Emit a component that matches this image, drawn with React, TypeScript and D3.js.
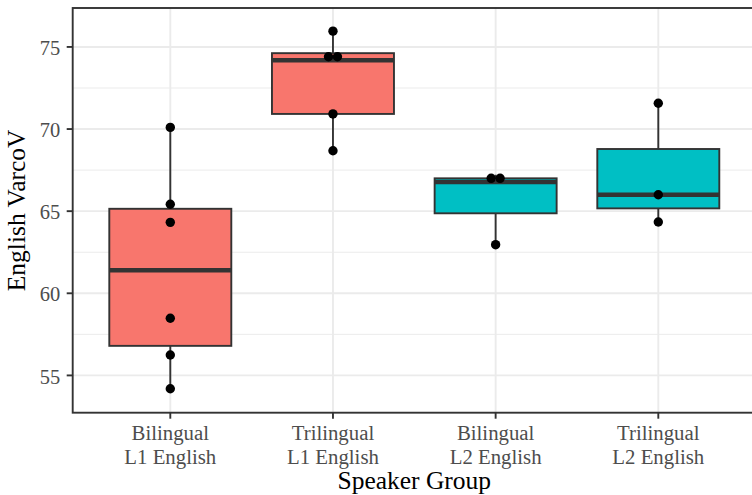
import React from "react";
import * as d3 from "d3";

// Speaker groups (two-line tick labels) and their fill colours
const groups = ["Bilingual L1", "Trilingual L1", "Bilingual L2", "Trilingual L2"];
const groupLabelLine1 = ["Bilingual", "Trilingual", "Bilingual", "Trilingual"];
const groupLabelLine2 = ["L1 English", "L1 English", "L2 English", "L2 English"];
const groupFill = ["#F8766D", "#F8766D", "#00BFC4", "#00BFC4"];

// English VarcoV per speaker, by group
const bilingualL1 = [54.19, 56.24, 58.48, 64.32, 65.42, 70.1];
const trilingualL1 = [68.68, 70.92, 74.19, 74.62, 75.96];
const bilingualL2 = [62.96, 66.78, 67.22];
const trilingualL2 = [64.34, 66.0, 71.57];
const groupValues = [bilingualL1, trilingualL1, bilingualL2, trilingualL2];

const yTicks = [55, 60, 65, 70, 75];
const yMinorTicks = [52.5, 57.5, 62.5, 67.5, 72.5, 77.5];
const yDomain = [52.73, 77.37];

const W = 752;
const H = 495;
const panel = { left: 72.7, right: 755.9, top: 8, bottom: 412.7 };

const FONT = "'Liberation Serif', 'Times New Roman', serif";

// Five-number summary with Tukey whiskers (R quantile type 7)
function boxStats(vals: number[]) {
  const s = [...vals].sort((a, b) => a - b);
  const q1 = d3.quantileSorted(s, 0.25)!;
  const med = d3.quantileSorted(s, 0.5)!;
  const q3 = d3.quantileSorted(s, 0.75)!;
  const iqr = q3 - q1;
  const lo = s.find((v) => v >= q1 - 1.5 * iqr)!;
  const hi = [...s].reverse().find((v) => v <= q3 + 1.5 * iqr)!;
  return { q1, med, q3, lo, hi };
}

// Dot-density binning: points closer than a bin width share one row and stack sideways
function dotBins(vals: number[], binwidth: number) {
  const s = [...vals].sort((a, b) => a - b);
  const bins: number[][] = [];
  let cur: number[] = [];
  for (const v of s) {
    if (cur.length && v >= cur[0] + binwidth) {
      bins.push(cur);
      cur = [];
    }
    cur.push(v);
  }
  if (cur.length) bins.push(cur);
  return bins.map((b) => ({ center: (b[0] + b[b.length - 1]) / 2, count: b.length }));
}

export default function App() {
  const x = d3.scalePoint<string>().domain(groups).range([panel.left, panel.right]).padding(0.6);
  const y = d3.scaleLinear().domain(yDomain).range([panel.bottom, panel.top]);
  const step = x.step();
  const boxW = step * 0.75;

  const all = groupValues.flat();
  const binwidth = (d3.max(all)! - d3.min(all)!) / 30;
  const r = 4.7;
  const ink = "#333333";
  const lw = 1.9;

  return (
    <svg
      width={W}
      height={H}
      style={{ position: "absolute", left: 0, top: 0, background: "#fff" }}
      fontFamily={FONT}
    >
      <defs>
        <clipPath id="panel-clip">
          <rect x={panel.left} y={panel.top} width={panel.right - panel.left} height={panel.bottom - panel.top} />
        </clipPath>
      </defs>
      <rect x={panel.left} y={panel.top} width={panel.right - panel.left} height={panel.bottom - panel.top} fill="#fff" />
      <g clipPath="url(#panel-clip)">
        {yMinorTicks.map((t) => (
          <line key={"mn" + t} x1={panel.left} x2={panel.right} y1={y(t)} y2={y(t)} stroke="#EBEBEB" strokeWidth={1} />
        ))}
        {yTicks.map((t) => (
          <line key={"mj" + t} x1={panel.left} x2={panel.right} y1={y(t)} y2={y(t)} stroke="#EBEBEB" strokeWidth={1.9} />
        ))}
        {groups.map((g) => (
          <line key={"vx" + g} x1={x(g)} x2={x(g)} y1={panel.top} y2={panel.bottom} stroke="#EBEBEB" strokeWidth={1.9} />
        ))}
        {groups.map((g, i) => {
          const st = boxStats(groupValues[i]);
          const cx = x(g)!;
          return (
            <g key={"box" + g}>
              <line x1={cx} x2={cx} y1={y(st.hi)} y2={y(st.q3)} stroke={ink} strokeWidth={lw} />
              <line x1={cx} x2={cx} y1={y(st.q1)} y2={y(st.lo)} stroke={ink} strokeWidth={lw} />
              <rect
                x={cx - boxW / 2}
                y={y(st.q3)}
                width={boxW}
                height={y(st.q1) - y(st.q3)}
                fill={groupFill[i]}
                stroke={ink}
                strokeWidth={lw}
              />
              <line x1={cx - boxW / 2} x2={cx + boxW / 2} y1={y(st.med)} y2={y(st.med)} stroke={ink} strokeWidth={4.5} />
            </g>
          );
        })}
        {groups.map((g, i) => {
          const cx = x(g)!;
          return dotBins(groupValues[i], binwidth).flatMap((b, bi) =>
            d3.range(b.count).map((k) => (
              <circle
                key={`dot-${g}-${bi}-${k}`}
                cx={cx + (k - (b.count - 1) / 2) * 2 * r * 0.95}
                cy={y(b.center)}
                r={r}
                fill="#000"
              />
            ))
          );
        })}
      </g>
      <rect
        x={panel.left}
        y={panel.top}
        width={panel.right - panel.left}
        height={panel.bottom - panel.top}
        fill="none"
        stroke={ink}
        strokeWidth={lw}
      />
      {/* y axis */}
      {yTicks.map((t) => (
        <g key={"yt" + t}>
          <line x1={panel.left - 6} x2={panel.left} y1={y(t)} y2={y(t)} stroke={ink} strokeWidth={lw} />
          <text x={panel.left - 12.5} y={y(t)} dy="0.4em" textAnchor="end" fontSize={20.5} fill="#4D4D4D">
            {t}
          </text>
        </g>
      ))}
      {/* x axis */}
      {groups.map((g, i) => (
        <g key={"xt" + g}>
          <line x1={x(g)} x2={x(g)} y1={panel.bottom} y2={panel.bottom + 6} stroke={ink} strokeWidth={lw} />
          <text x={x(g)} y={439.5} textAnchor="middle" fontSize={20.8} fill="#4D4D4D">
            {groupLabelLine1[i]}
          </text>
          <text x={x(g)} y={463.5} textAnchor="middle" fontSize={20.8} fill="#4D4D4D">
            {groupLabelLine2[i]}
          </text>
        </g>
      ))}
      <text x={(panel.left + panel.right) / 2} y={489} textAnchor="middle" fontSize={25.5} fill="#000">
        Speaker Group
      </text>
      <text
        transform={`translate(25,${(panel.top + panel.bottom) / 2}) rotate(-90)`}
        textAnchor="middle"
        fontSize={25.5}
        fill="#000"
      >
        English VarcoV
      </text>
    </svg>
  );
}
